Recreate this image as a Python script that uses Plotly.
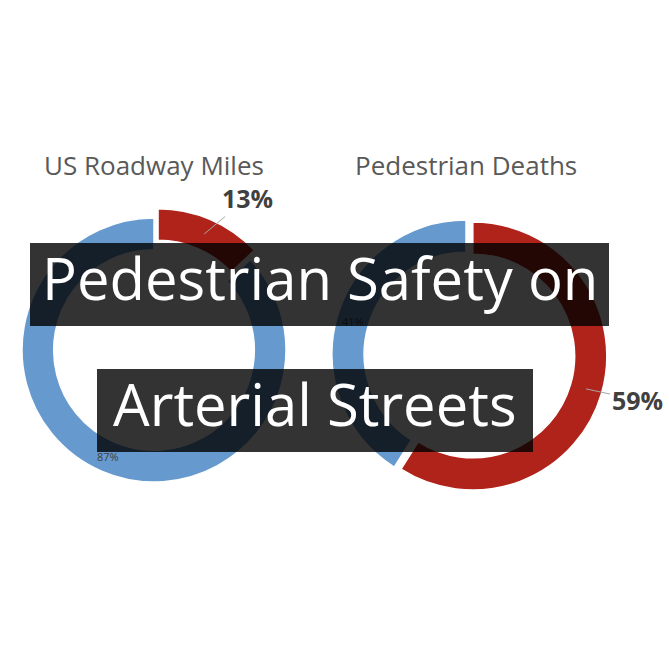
import plotly.graph_objects as go
import math

# ---- data ----
categories = ["Arterial", "Other"]
roadway_miles = [13, 87]
ped_deaths = [59, 41]
chart_titles = ["US Roadway Miles", "Pedestrian Deaths"]
headline = ["Pedestrian Safety on", "Arterial Streets"]

W = H = 669
RED = "#B0231A"
BLUE = "#6699CE"
colors = [RED, BLUE]

HOLE = 0.76
pies = [
    dict(vals=roadway_miles, cx=154, cy=350, r=132, pull=0.077, title=chart_titles[0]),
    dict(vals=ped_deaths, cx=466, cy=354, r=134, pull=0.053, title=chart_titles[1]),
]

fig = go.Figure()
annotations = []
for p in pies:
    R = p["r"]
    half = R * (1 + p["pull"])
    fig.add_trace(go.Pie(
        labels=categories,
        values=p["vals"],
        sort=False,
        direction="clockwise",
        rotation=0,
        hole=HOLE,
        pull=[p["pull"], 0],
        marker=dict(colors=colors, line=dict(color="white", width=1.5)),
        texttemplate="%{percent:.0%}",
        textposition=["none", "inside"],
        insidetextorientation="horizontal",
        textfont=dict(family="Open Sans", size=11, color="#404040"),
        showlegend=False,
        hoverinfo="label+percent",
        domain=dict(x=[(p["cx"] - half) / W, (p["cx"] + half) / W],
                    y=[(H - p["cy"] - half) / H, (H - p["cy"] + half) / H]),
    ))
    # chart title
    annotations.append(dict(
        x=p["cx"] / W, y=1 - 165 / H, xref="paper", yref="paper",
        text=p["title"], showarrow=False, xanchor="center", yanchor="middle",
        font=dict(family="Open Sans", size=26, color="#595959"),
    ))
    # outside label with leader line for the red slice
    total = sum(p["vals"])
    frac = p["vals"][0] / total
    mid = frac * math.pi  # midpoint angle (clockwise from 12 o'clock)
    rr = R * (1 + HOLE) / 2 + R * p["pull"]
    px = p["cx"] + math.sin(mid) * rr
    py = p["cy"] - math.cos(mid) * rr
    if frac < 0.25:
        ax, ay = 43, -36
    else:
        ax, ay = 51, 11
    annotations.append(dict(
        x=px / W, y=1 - py / H, xref="paper", yref="paper",
        text="<b>%d%%</b>" % round(frac * 100),
        showarrow=True, arrowhead=0, arrowwidth=1, arrowcolor="#A6A6A6",
        ax=ax, ay=ay, standoff=0,
        font=dict(family="Open Sans", size=25, color="#404040"),
    ))

# headline overlay boxes
boxes = [(30, 243, 609, 326), (97, 369, 533, 452)]
shapes = []
for (x0, y0, x1, y1), txt in zip(boxes, headline):
    shapes.append(dict(type="rect", xref="paper", yref="paper", layer="above",
                       x0=x0 / W, x1=x1 / W, y0=1 - y1 / H, y1=1 - y0 / H,
                       fillcolor="rgba(0,0,0,0.8)", line=dict(width=0)))
    annotations.append(dict(
        x=(x0 + x1) / 2 / W, y=1 - ((y0 + y1) / 2 - 7) / H, xref="paper", yref="paper",
        text=txt, showarrow=False, xanchor="center", yanchor="middle",
        font=dict(family="Open Sans", size=58, color="white"),
    ))

fig.update_layout(
    width=W, height=H,
    margin=dict(l=0, r=0, t=0, b=0),
    paper_bgcolor="white", plot_bgcolor="white",
    shapes=shapes, annotations=annotations,
)
fig.write_html("out.html")
